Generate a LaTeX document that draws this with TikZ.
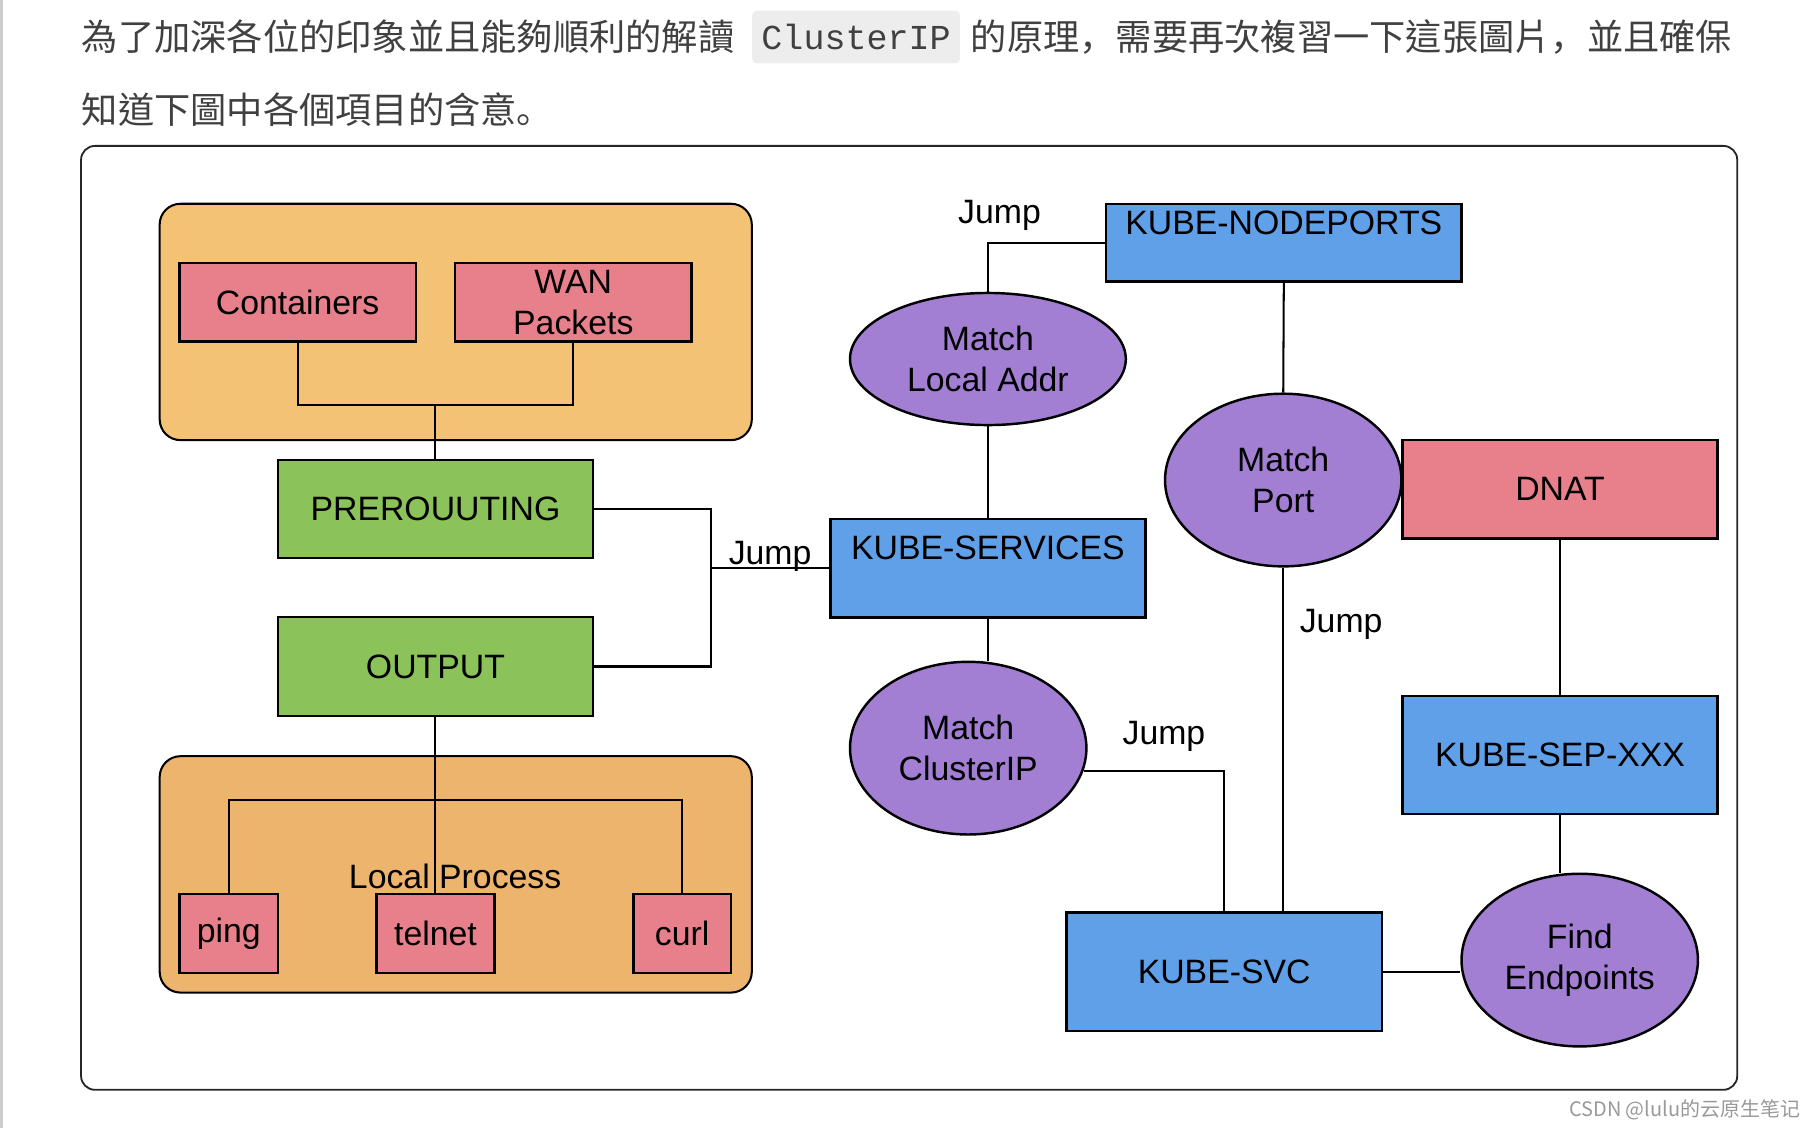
\documentclass[tikz,border=0pt]{standalone}
\usepackage{fontspec}
\setmainfont{Liberation Sans}
\setmonofont{Liberation Mono}
\newfontfamily\cjktc{Noto Sans CJK TC}
\newfontfamily\cjksc{Noto Sans CJK SC}
\newcommand\scpunct[1]{{\cjksc #1}}
\usetikzlibrary{shapes.geometric, positioning}
\definecolor{inboundfill}{HTML}{F4C274}
\definecolor{localfill}{HTML}{EDB46D}
\definecolor{sourcefill}{HTML}{E8808C}
\definecolor{hookfill}{HTML}{8BC25A}
\definecolor{chainfill}{HTML}{60A0E8}
\definecolor{matchfill}{HTML}{A27FD3}
\definecolor{prose}{HTML}{404040}
\tikzset{
    headline/.style  = {inner sep = 0pt, text = prose, font = \cjktc\fontsize{8.9}{10}\selectfont},
    codebox/.style   = {fill = black!7, rounded corners = 0.04cm, inner xsep = 0.08cm, minimum height = 0.4cm,
                        text = prose, font = \ttfamily\fontsize{8.6}{10}\selectfont},
    frame/.style     = {draw = black!85, line width = 0.45pt, rounded corners = 0.12cm},
    group/.style     = {draw = black, line width = 0.5pt, rounded corners = 0.18cm, inner sep = 0pt},
    rulebox/.style   = {draw = black, line width = 0.6pt, inner sep = 0pt, align = center,
                        font = \fontsize{8.3}{10}\selectfont},
    matchnode/.style = {ellipse, draw = black, line width = 0.6pt, fill = matchfill, inner sep = 0pt,
                        align = center, font = \fontsize{8.3}{10}\selectfont},
    wire/.style      = {draw = black, line width = 0.5pt},
    jumplabel/.style = {inner sep = 0.5pt, font = \fontsize{8.3}{10}\selectfont},
}
\begin{document}
\begin{tikzpicture}[x = 0.01cm, y = -0.01cm]
    \useasboundingbox (0,0) rectangle (1568,974);
    \draw [black!20, line width = 0.8pt] (1,0) -- (1,974);

    \node [headline, anchor = west]     (intro)     at (70,32) {為了加深各位的印象並且能夠順利的解讀};
    \node [codebox, right = 0.14cm of intro]   (code)      {ClusterIP};
    \node [headline, right = 0.08cm of code]   (introrest) {的原理\scpunct{，}需要再次複習一下這張圖片\scpunct{，}並且確保};
    \node [headline, anchor = west]     (introend)  at (70,95) {知道下圖中各個項目的含意\scpunct{。}};

    \draw [frame] (70,126) rectangle (1500,941);

    \node [group, fill = inboundfill, minimum width = 5.11cm, minimum height = 2.04cm] (inbound) at (393.5,278) {};
    \node [group, fill = localfill,   minimum width = 5.11cm, minimum height = 2.04cm] (local)   at (393.5,755) {};
    \node [jumplabel] (locallabel) at (393,757) {Local Process};

    \coordinate (merge)  at (376,350);
    \coordinate (jump)   at (614,490.5);
    \coordinate (spread) at (376,691);

    \node [rulebox, fill = sourcefill, minimum width = 2.04cm, minimum height = 0.68cm] (containers) at (257,261)   {Containers};
    \node [rulebox, fill = sourcefill, minimum width = 2.04cm, minimum height = 0.68cm] (wan)        at (495,261)   {WAN\\Packets};
    \node [rulebox, fill = hookfill,   minimum width = 2.72cm, minimum height = 0.85cm] (prerouting) at (376,439.5) {PREROUUTING};
    \node [rulebox, fill = hookfill,   minimum width = 2.72cm, minimum height = 0.85cm] (output)     at (376,575.5) {OUTPUT};
    \node [rulebox, fill = sourcefill, minimum width = 0.85cm, minimum height = 0.68cm] (ping)       at (197.5,806) {ping};
    \node [rulebox, fill = sourcefill, minimum width = 1.02cm, minimum height = 0.68cm] (telnet)     at (376,806)   {telnet};
    \node [rulebox, fill = sourcefill, minimum width = 0.84cm, minimum height = 0.68cm] (curl)       at (589,806)   {curl};

    \node [rulebox, fill = chainfill,  minimum width = 2.72cm, minimum height = 0.85cm] (services)   at (853,490.5)  {KUBE-SERVICES\\~};
    \node [rulebox, fill = chainfill,  minimum width = 3.07cm, minimum height = 0.67cm] (nodeports)  at (1108.5,209.5) {KUBE-NODEPORTS\\~};
    \node [rulebox, fill = sourcefill, minimum width = 2.72cm, minimum height = 0.85cm] (dnat)       at (1347,422.5) {DNAT};
    \node [rulebox, fill = chainfill,  minimum width = 2.72cm, minimum height = 1.02cm] (sep)        at (1347,652)   {KUBE-SEP-XXX};
    \node [rulebox, fill = chainfill,  minimum width = 2.72cm, minimum height = 1.02cm] (svc)        at (1057,839)   {KUBE-SVC};

    \node [matchnode, minimum width = 2.38cm, minimum height = 1.14cm] (localaddr) at (853,310)    {Match\\Local Addr};
    \node [matchnode, minimum width = 2.04cm, minimum height = 1.49cm] (port)      at (1108,414.5) {Match\\Port};
    \node [matchnode, minimum width = 2.04cm, minimum height = 1.49cm] (clusterip) at (836,646)    {Match\\ClusterIP};
    \node [matchnode, minimum width = 2.04cm, minimum height = 1.49cm] (endpoints) at (1364,829)   {Find\\Endpoints};

    \draw [wire] (containers.south) |- (merge) -| (wan.south);
    \draw [wire] (merge) -- (prerouting.north);
    \draw [wire] (prerouting.east) -| (jump);
    \draw [wire] (output.east) -| (jump);
    \draw [wire] (jump) -- node [jumplabel, midway, above, yshift = -1.5pt] (jumpservices) {Jump} (services.west);
    \draw [wire] (output.south) -- (telnet.north);
    \draw [wire] (ping.north) |- (spread) -| (curl.north);

    \draw [wire] (services.north) -- (localaddr.south);
    \draw [wire] (localaddr.north) |- (nodeports.west);
    \draw [wire] (nodeports.south) -- (port.north);
    \draw [wire] (services.south) -- (services.south |- clusterip.north);
    \draw [wire] (clusterip.-11) -| (svc.north);
    \draw [wire] (port.south) -- (port.south |- svc.north);
    \draw [wire] (svc.east) -- (svc.east -| endpoints.west);
    \draw [wire] (dnat.south) -- (sep.north);
    \draw [wire] (sep.south) -- (sep.south |- endpoints.north);

    \node [jumplabel] (jumpnodeports) at (863,186)  {Jump};
    \node [jumplabel] (jumpport)      at (1158,539) {Jump};
    \node [jumplabel] (jumpcluster)   at (1005,636) {Jump};

    \node [anchor = east, inner sep = 0pt, text = black!40, font = \cjksc\fontsize{4.9}{6}\selectfont] (mark) at (1555,958) {CSDN @lulu的云原生笔记};
\end{tikzpicture}
\end{document}
